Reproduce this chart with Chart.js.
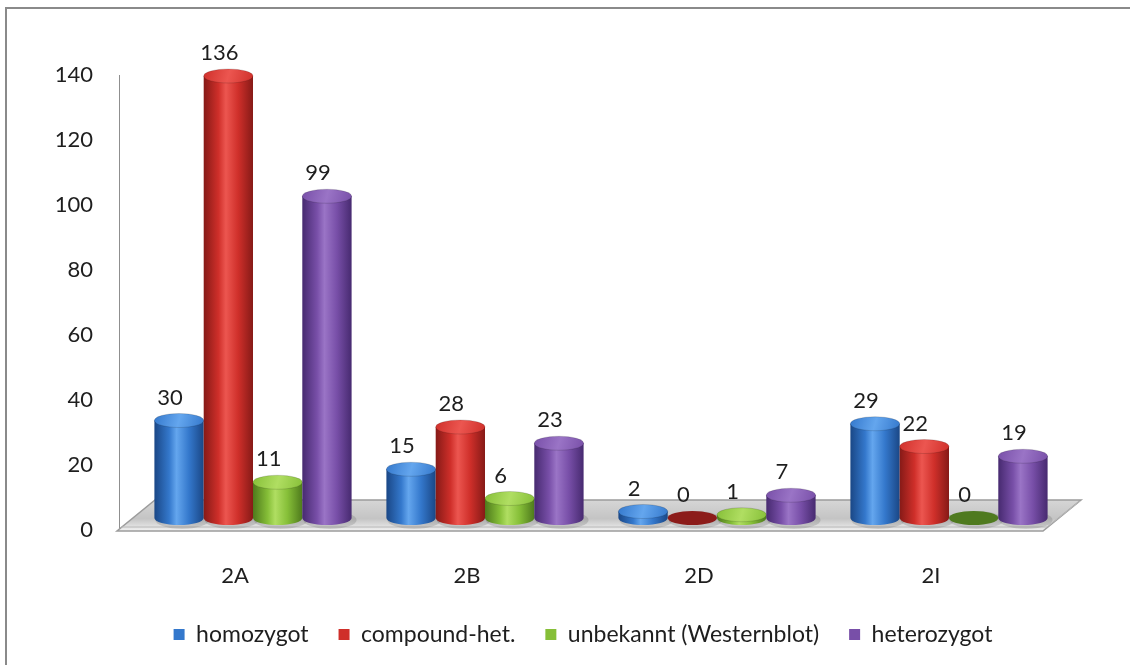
<!DOCTYPE html>
<html>
<head>
<meta charset="utf-8">
<script src="https://cdn.jsdelivr.net/npm/chart.js@4.4.0/dist/chart.umd.min.js"></script>
<style>
  html, body { margin: 0; padding: 0; background: #fff; }
  #wrap { width: 1130px; height: 665px; position: relative; }
</style>
</head>
<body>
<div id="wrap"><canvas id="chart" width="1130" height="665"></canvas></div>
<script>
// chart data
const categories = ['2A', '2B', '2D', '2I'];
const seriesNames = ['homozygot', 'compound-het.', 'unbekannt (Westernblot)', 'heterozygot'];
const homozygot = [30, 15, 2, 29];
const compoundHet = [136, 28, 0, 22];
const unbekannt = [11, 6, 1, 0];
const heterozygot = [99, 23, 7, 19];
const yTicks = [0, 20, 40, 60, 80, 100, 120, 140];

// cylinder shading per series
const shades = [
  { light: '#64a6ee', mid: '#3478cc', dark: '#1a4786', zero: '#2f6fc4' },
  { light: '#ec5650', mid: '#cf2f2a', dark: '#861a17', zero: '#8c1c1a' },
  { light: '#b0de62', mid: '#86bf38', dark: '#4e7a1c', zero: '#4f7a1f' },
  { light: '#9a74c6', mid: '#784fa8', dark: '#472a70', zero: '#5a3a88' }
];

// depth offset of the bar row relative to the front plane of the floor
const DX = 18, DY = -12, RY = 7;

function drawCylinder(ctx, cx, top, base, rx, s) {
  // shadow on the floor
  ctx.save();
  ctx.fillStyle = 'rgba(0,0,0,0.12)';
  ctx.beginPath();
  ctx.ellipse(cx + 3, base + 2, rx + 2, RY + 2, 0, 0, Math.PI * 2);
  ctx.fill();
  ctx.restore();

  if (base - top < 0.5) {
    ctx.fillStyle = s.zero;
    ctx.beginPath();
    ctx.ellipse(cx, base, rx, RY, 0, 0, Math.PI * 2);
    ctx.fill();
    return;
  }
  const g = ctx.createLinearGradient(cx - rx, 0, cx + rx, 0);
  g.addColorStop(0, s.dark);
  g.addColorStop(0.3, s.mid);
  g.addColorStop(0.45, s.light);
  g.addColorStop(0.7, s.mid);
  g.addColorStop(1, s.dark);
  ctx.fillStyle = g;
  ctx.beginPath();
  ctx.moveTo(cx - rx, top);
  ctx.lineTo(cx - rx, base);
  ctx.ellipse(cx, base, rx, RY, 0, Math.PI, 0, true);
  ctx.lineTo(cx + rx, top);
  ctx.closePath();
  ctx.fill();

  const t = ctx.createLinearGradient(cx - rx, top - RY, cx + rx, top + RY);
  t.addColorStop(0, s.mid);
  t.addColorStop(0.5, s.light);
  t.addColorStop(1, s.mid);
  ctx.fillStyle = t;
  ctx.beginPath();
  ctx.ellipse(cx, top, rx, RY, 0, 0, Math.PI * 2);
  ctx.fill();
  ctx.strokeStyle = 'rgba(0,0,0,0.15)';
  ctx.lineWidth = 1;
  ctx.stroke();
}

const cylinders = {
  id: 'cylinders',
  beforeDraw(chart) {
    const ctx = chart.ctx;
    ctx.save();
    ctx.strokeStyle = '#8a8a8a';
    ctx.lineWidth = 2;
    ctx.strokeRect(6, 8, 1300, 800);
    ctx.restore();
  },
  beforeDatasetsDraw(chart) {
    // floor
    const ctx = chart.ctx;
    const a = chart.chartArea;
    const fl = a.left - 2, fr = a.right - 4, fy = a.bottom + 1;
    const bx = 38, by = -31;
    ctx.save();
    const g = ctx.createLinearGradient(0, fy + by, 0, fy);
    g.addColorStop(0, '#d6d6d6');
    g.addColorStop(0.6, '#c4c4c4');
    g.addColorStop(1, '#f2f2f2');
    ctx.fillStyle = g;
    ctx.beginPath();
    ctx.moveTo(fl, fy);
    ctx.lineTo(fr, fy);
    ctx.lineTo(fr + bx, fy + by);
    ctx.lineTo(fl + bx, fy + by);
    ctx.closePath();
    ctx.fill();
    ctx.strokeStyle = '#9c9c9c';
    ctx.lineWidth = 1.5;
    ctx.stroke();
    ctx.beginPath();
    ctx.moveTo(fl + 4, fy - 4);
    ctx.lineTo(fr + 4, fy - 4);
    ctx.lineTo(fr + bx - 1, fy + by + 1);
    ctx.strokeStyle = '#b8b8b8';
    ctx.lineWidth = 1;
    ctx.stroke();
    ctx.restore();
  },
  beforeDatasetDraw() {
    return false;
  },
  afterDatasetsDraw(chart) {
    const ctx = chart.ctx;
    const labels = [];
    ctx.save();
    chart.data.labels.forEach((c, j) => {
      chart.data.datasets.forEach((ds, i) => {
        const bar = chart.getDatasetMeta(i).data[j];
        const cx = bar.x + DX;
        const top = bar.y + DY;
        const base = bar.base + DY;
        const rx = bar.width / 2;
        drawCylinder(ctx, cx, top, base, rx, shades[i]);
        labels.push({ x: cx - 9, y: top - RY - 16, text: String(ds.data[j]) });
      });
    });
    ctx.font = '22px Lato';
    ctx.fillStyle = '#1e1e1e';
    ctx.textAlign = 'center';
    ctx.textBaseline = 'middle';
    labels.forEach(l => ctx.fillText(l.text, l.x, l.y));
    ctx.restore();
  }
};

Chart.defaults.font.family = 'Lato';
Chart.defaults.color = '#1e1e1e';

new Chart(document.getElementById('chart'), {
  type: 'bar',
  data: {
    labels: categories,
    datasets: [homozygot, compoundHet, unbekannt, heterozygot].map((vals, i) => ({
      label: seriesNames[i],
      data: vals,
      backgroundColor: shades[i].mid,
      borderColor: shades[i].dark,
      borderWidth: 0,
      categoryPercentage: 0.85,
      barPercentage: 1.0
    }))
  },
  options: {
    responsive: false,
    animation: false,
    layout: { padding: { top: 75, left: 0, right: 83, bottom: 9 } },
    scales: {
      x: {
        grid: { display: false, drawTicks: false },
        border: { display: false },
        ticks: { font: { size: 22 }, padding: 33, color: '#1e1e1e' },
        afterFit: scale => { scale.height = 63; }
      },
      y: {
        min: 0,
        max: 140,
        grid: { display: false, drawTicks: false },
        border: { display: true, color: '#8f8f8f', width: 1 },
        ticks: { font: { size: 22 }, padding: 26, color: '#1e1e1e' },
        afterBuildTicks: scale => { scale.ticks = yTicks.map(v => ({ value: v })); },
        afterFit: scale => { scale.width = 119; }
      }
    },
    plugins: {
      legend: {
        position: 'bottom',
        fullSize: false,
        labels: {
          boxWidth: 11,
          boxHeight: 11,
          padding: 30,
          font: { size: 23 },
          color: '#1e1e1e'
        }
      },
      tooltip: { enabled: false }
    }
  },
  plugins: [cylinders]
});
</script>
</body>
</html>
